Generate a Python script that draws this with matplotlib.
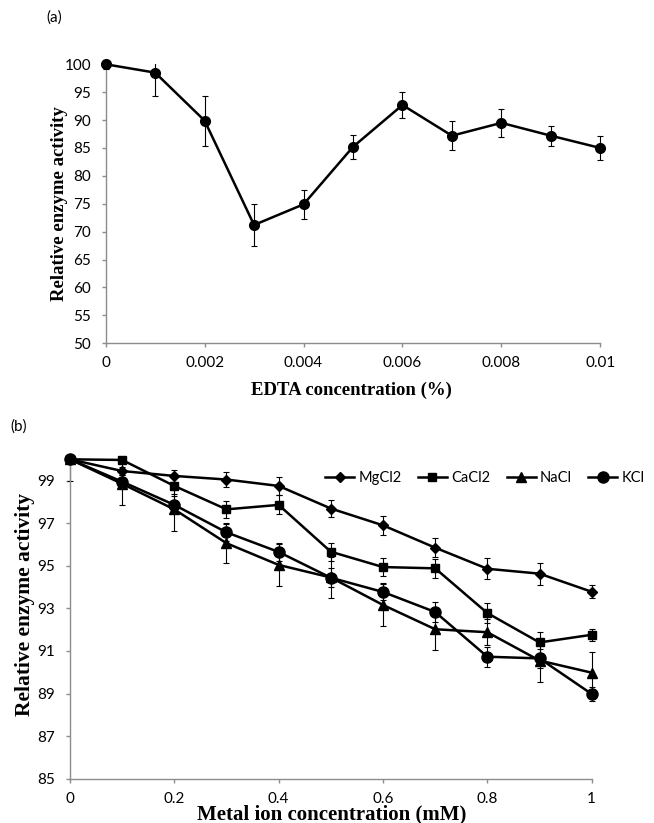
"""EDTA and metal-ion effect on relative enzyme activity (two panels)."""
import matplotlib
matplotlib.use("Agg")
import matplotlib.pyplot as plt
from matplotlib.transforms import Bbox

# ---- panel (a): EDTA ----
edta_conc = [0, 0.001, 0.002, 0.003, 0.004, 0.005, 0.006, 0.007, 0.008, 0.009, 0.01]
edta_act = [100, 98.5, 89.9, 71.2, 74.9, 85.2, 92.7, 87.2, 89.5, 87.2, 85.0]
edta_err = [0.9, 4.2, 4.5, 3.8, 2.6, 2.2, 2.4, 2.6, 2.5, 1.8, 2.2]

# ---- panel (b): metal ions ----
metal_conc = [0, 0.1, 0.2, 0.3, 0.4, 0.5, 0.6, 0.7, 0.8, 0.9, 1.0]
mgcl2 = [100, 99.45, 99.22, 99.05, 98.75, 97.69, 96.90, 95.85, 94.86, 94.63, 93.78]
mgcl2_err = [0, 0.2, 0.3, 0.37, 0.44, 0.42, 0.44, 0.46, 0.5, 0.51, 0.3]
cacl2 = [100, 99.97, 98.75, 97.65, 97.86, 95.66, 94.94, 94.88, 92.78, 91.40, 91.76]
cacl2_err = [0, 0.1, 0.4, 0.4, 0.45, 0.42, 0.43, 0.46, 0.48, 0.5, 0.28]
nacl = [100, 98.85, 97.65, 96.06, 95.04, 94.45, 93.16, 92.02, 91.88, 90.55, 89.98]
nacl_err = [1.0, 1.0, 1.0, 0.95, 1.0, 0.95, 0.97, 0.98, 0.6, 1.0, 0.98]
kcl = [100, 98.95, 97.86, 96.57, 95.65, 94.44, 93.77, 92.83, 90.73, 90.65, 88.98]
kcl_err = [0, 0.3, 0.4, 0.4, 0.44, 0.45, 0.4, 0.45, 0.47, 0.45, 0.33]

series = [("MgCl2", mgcl2, mgcl2_err, "D", 5.0),
          ("CaCl2", cacl2, cacl2_err, "s", 6.2),
          ("NaCl", nacl, nacl_err, "^", 6.5),
          ("KCl", kcl, kcl_err, "o", 8.0)]

SPINE = "#8c8c8c"
TICKFONT = "Lato"
LABELFONT = "Liberation Serif"


def style_axes(ax):
    for s in ("top", "right"):
        ax.spines[s].set_visible(False)
    for s in ("left", "bottom"):
        ax.spines[s].set_color(SPINE)
        ax.spines[s].set_linewidth(1.0)
    ax.tick_params(axis="both", direction="out", length=3, width=1.0,
                   color=SPINE, labelsize=11, labelcolor="black")
    ax.tick_params(axis="x", pad=6.5)
    ax.tick_params(axis="y", pad=7.5)
    for lab in ax.get_xticklabels() + ax.get_yticklabels():
        lab.set_family(TICKFONT)


def errbars(ax, x, y, err):
    # clip only at the top/bottom of the plot (caps at the right edge stay whole)
    cont = ax.errorbar(x, y, yerr=err, fmt="none", ecolor="black",
                       elinewidth=0.8, capsize=2.5, capthick=0.8)
    x0, y0, x1, y1 = ax.bbox.extents
    box = Bbox.from_extents(x0 - 20, y0 - 1, x1 + 20, y1)
    for art in cont.lines[1] + cont.lines[2]:
        art.set_clip_box(box)


fig = plt.figure(figsize=(6.54, 8.23), dpi=100)

# panel (a)
ax1 = fig.add_axes([0.1616, 0.5829, 0.7563, 0.339])
ax1.set_xlim(0, 0.01)
ax1.set_ylim(50, 100)
errbars(ax1, edta_conc, edta_act, edta_err)
ax1.plot(edta_conc, edta_act, color="black", lw=1.8, marker="o", ms=7,
         clip_on=False, zorder=3)
ax1.set_xticks([0, 0.002, 0.004, 0.006, 0.008, 0.01])
ax1.set_xticklabels(["0", "0.002", "0.004", "0.006", "0.008", "0.01"])
ax1.set_yticks(range(50, 101, 5))
style_axes(ax1)
ax1.text(-0.0924, 0.499, "Relative enzyme activity", transform=ax1.transAxes,
         rotation=90, ha="center", va="center", family=LABELFONT,
         fontweight="bold", fontsize=13.5)
ax1.text(0.497, -0.167, "EDTA concentration (%)", transform=ax1.transAxes,
         ha="center", va="center", family=LABELFONT, fontweight="bold",
         fontsize=13.5)
fig.text(54 / 654, 1 - 18 / 823, "(a)", ha="center", va="center",
         family=TICKFONT, fontsize=11)

# panel (b)
ax2 = fig.add_axes([0.107, 0.0538, 0.7977, 0.3881])
ax2.set_xlim(0, 1)
ax2.set_ylim(85, 100)
handles = []
for name, vals, err, mk, ms in series:
    errbars(ax2, metal_conc, vals, err)
    h, = ax2.plot(metal_conc, vals, color="black", lw=1.8, marker=mk, ms=ms,
                  clip_on=False, zorder=3, label=name)
    handles.append(h)
ax2.set_xticks([0, 0.2, 0.4, 0.6, 0.8, 1.0])
ax2.set_xticklabels(["0", "0.2", "0.4", "0.6", "0.8", "1"])
ax2.set_yticks(range(85, 100, 2))
style_axes(ax2)
ax2.text(-0.0863, 0.547, "Relative enzyme activity", transform=ax2.transAxes,
         rotation=90, ha="center", va="center", family=LABELFONT,
         fontweight="bold", fontsize=15.5)
ax2.text(0.502, -0.112, "Metal ion concentration (mM)", transform=ax2.transAxes,
         ha="center", va="center", family=LABELFONT, fontweight="bold",
         fontsize=15)
fig.text(19 / 654, 1 - 427 / 823, "(b)", ha="center", va="center",
         family=TICKFONT, fontsize=11)

fig.legend(handles=handles, loc="center left",
           bbox_to_anchor=(325 / 654, 1 - 478 / 823), ncol=4,
           frameon=False, borderpad=0, borderaxespad=0,
           handlelength=2.0, handletextpad=0.3, columnspacing=1.1,
           prop={"family": TICKFONT, "size": 10.5})

fig.savefig("out.png", dpi=100)
